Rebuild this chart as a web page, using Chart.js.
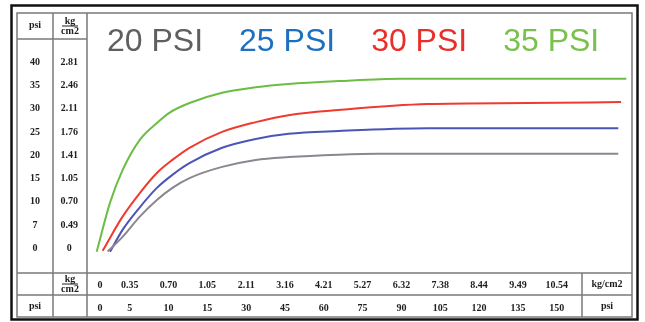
<!DOCTYPE html>
<html>
<head>
<meta charset="utf-8">
<script src="https://cdn.jsdelivr.net/npm/chart.js@4.4.0/dist/chart.umd.min.js"></script>
<style>
  html, body { margin: 0; padding: 0; background: #fff; }
  #wrap { width: 645px; height: 322px; }
</style>
</head>
<body>
<div id="wrap"><canvas id="grafico"></canvas></div>
<script>
// bottom table rows (x axis)
var kgX = ['0', '0.35', '0.70', '1.05', '2.11', '3.16', '4.21', '5.27', '6.32', '7.38', '8.44', '9.49', '10.54'];
var psiX = [0, 5, 10, 15, 30, 45, 60, 75, 90, 105, 120, 135, 150];
// left table columns (y axis)
var psiY = [0, 7, 10, 15, 20, 25, 30, 35, 40];
var kgY = ['0', '0.49', '0.70', '1.05', '1.41', '1.76', '2.11', '2.46', '2.81'];

var labels = ['20 PSI', '25 PSI', '30 PSI', '35 PSI'];
// curve points: [x in psi, y in psi]
var curva20 = [[1.3, -0.9], [3.8, 3.5], [6.3, 8.1], [8.5, 10.4], [10.5, 13.0], [12.7, 15.1], [20.7, 17.5], [33.7, 19.0], [46.4, 19.6], [65.6, 20.1], [80.9, 20.3], [173.8, 20.3]];
var curva25 = [[1.7, -1.0], [3.8, 5.6], [6.3, 9.3], [8.5, 13.0], [10.5, 15.8], [12.7, 18.3], [20.7, 21.6], [33.7, 23.5], [46.4, 24.6], [65.6, 25.2], [100.1, 25.8], [173.8, 25.8]];
var curva30 = [[0.45, -0.7], [3.8, 8.1], [6.3, 11.9], [8.5, 16.2], [10.5, 19.0], [12.7, 21.6], [20.7, 25.0], [33.7, 27.1], [46.4, 28.6], [65.6, 29.7], [100.1, 31.0], [138.5, 31.2], [174.9, 31.4]];
var curva35 = [[-0.55, -1.0], [1.7, 9.9], [3.8, 16.8], [6.3, 23.3], [8.5, 26.9], [10.1, 29.1], [12.7, 31.2], [20.7, 33.4], [33.7, 34.6], [46.4, 35.3], [65.6, 35.9], [89.8, 36.4], [176.9, 36.4]];

var corLinha = ['#8d8690', '#4a55b5', '#ee3b2e', '#6cbd45'];
var corLegenda = ['#5f5f5f', '#1d70c0', '#e8302a', '#79c04e'];

// the table columns are evenly spaced, except the first one which is narrower
var slotsX = psiX.map(function (v, i) { return i === 0 ? 0.233 : i; });
var rowsY = psiY.map(function (v, i) { return i; });

function interp(v, xs, ys) {
    var i = 0;
    while (i < xs.length - 2 && v > xs[i + 1]) i++;
    return ys[i] + (v - xs[i]) * (ys[i + 1] - ys[i]) / (xs[i + 1] - xs[i]);
}

function pontos(curva) {
    return curva.map(function (p) {
        return { x: interp(p[0], psiX, slotsX), y: interp(p[1], psiY, rowsY) };
    });
}

var fonteTabela = { family: 'Liberation Serif', size: 10, weight: 'bold' };
var corTexto = '#1e1e1e';

// no extra padding from the labels, the cells are fixed
function semPadding(s) {
    s.paddingTop = 0; s.paddingBottom = 0; s.paddingLeft = 0; s.paddingRight = 0;
}

function eixoX(nomes, peso, padding) {
    return {
        type: 'linear', position: 'bottom', weight: peso, bounds: 'data',
        min: -0.1, max: 13.94,
        afterBuildTicks: function (s) { s.ticks = slotsX.map(function (v) { return { value: v }; }); },
        afterFit: function (s) { s.height = 22; semPadding(s); },
        ticks: { autoSkip: false, maxRotation: 0, padding: padding, font: fonteTabela, color: corTexto,
                 callback: function (v, i) { return nomes[i]; } },
        grid: { display: false, drawTicks: false },
        border: { display: false }
    };
}

function eixoY(nomes, peso, largura, padding) {
    return {
        type: 'linear', position: 'left', weight: peso, bounds: 'data',
        min: -1.051, max: 10.102,
        afterBuildTicks: function (s) { s.ticks = rowsY.map(function (v) { return { value: v }; }); },
        afterFit: function (s) { s.width = largura; semPadding(s); },
        ticks: { autoSkip: false, crossAlign: 'center', padding: padding, font: fonteTabela, color: corTexto,
                 callback: function (v, i) { return nomes[i]; } },
        grid: { display: false, drawTicks: false },
        border: { display: false }
    };
}

function fracao(ctx, x, y) {
    ctx.fillText('kg', x, y - 5);
    ctx.fillText('cm2', x, y + 5);
    ctx.beginPath();
    ctx.moveTo(x - 8, y);
    ctx.lineTo(x + 8, y);
    ctx.lineWidth = 1;
    ctx.stroke();
}

var tabela = {
    id: 'tabela',
    beforeDraw: function (chart) {
        var ctx = chart.ctx;
        ctx.save();
        ctx.fillStyle = '#fff';
        ctx.fillRect(0, 0, chart.width, chart.height);
        ctx.restore();
    },
    afterDraw: function (chart) {
        var ctx = chart.ctx, ca = chart.chartArea;
        var sx = chart.scales.x, sx2 = chart.scales.x2, sy = chart.scales.y, sy2 = chart.scales.y2;
        var esq = sy2.left, dir = ca.right, topo = ca.top, base = sx2.bottom;
        var colUnid = dir - 50;
        var linhaCab = topo + 26;
        ctx.save();

        // outer frame
        ctx.strokeStyle = '#111';
        ctx.lineWidth = 2.5;
        ctx.strokeRect(esq - 5.5, topo - 7.5, dir - esq + 11, base - topo + 10);

        // table lines
        ctx.strokeStyle = '#7a7a7a';
        ctx.lineWidth = 1.5;
        ctx.strokeRect(esq, topo, dir - esq, base - topo);
        ctx.beginPath();
        ctx.moveTo(sy2.right, topo); ctx.lineTo(sy2.right, base);
        ctx.moveTo(sy.right, topo); ctx.lineTo(sy.right, base);
        ctx.moveTo(esq, linhaCab); ctx.lineTo(sy.right, linhaCab);
        ctx.moveTo(esq, sx.top); ctx.lineTo(dir, sx.top);
        ctx.moveTo(esq, sx2.top); ctx.lineTo(dir, sx2.top);
        ctx.moveTo(colUnid, sx.top); ctx.lineTo(colUnid, base);
        ctx.stroke();

        // header and unit cells
        ctx.fillStyle = corTexto;
        ctx.strokeStyle = corTexto;
        ctx.font = 'bold 10px "Liberation Serif"';
        ctx.textAlign = 'center';
        ctx.textBaseline = 'middle';
        var cPsi = (sy2.left + sy2.right) / 2, cKg = (sy.left + sy.right) / 2;
        var rKg = (sx.top + sx.bottom) / 2, rPsi = (sx2.top + sx2.bottom) / 2;
        ctx.fillText('psi', cPsi, topo + 12);
        fracao(ctx, cKg, topo + 13);
        fracao(ctx, cKg, rKg);
        ctx.fillText('psi', cPsi, rPsi);
        ctx.fillText('kg/cm2', (colUnid + dir) / 2, rKg);
        ctx.fillText('psi', (colUnid + dir) / 2, rPsi);

        // legend
        ctx.font = '32px "Liberation Sans"';
        ctx.textAlign = 'left';
        ctx.textBaseline = 'alphabetic';
        var lx = 107;
        chart.data.datasets.forEach(function (ds, i) {
            ctx.fillStyle = corLegenda[i];
            ctx.fillText(ds.label, lx, 51);
            lx += ctx.measureText(ds.label).width + 36;
        });
        ctx.restore();
    }
};

var curvas = [curva20, curva25, curva30, curva35];
var ctx = document.getElementById('grafico').getContext('2d');
var grafico = new Chart(ctx, {
    type: 'line',
    data: {
        datasets: curvas.map(function (c, i) {
            return {
                label: labels[i],
                data: pontos(c),
                borderColor: corLinha[i],
                borderWidth: 2,
                pointRadius: 0,
                fill: false,
                cubicInterpolationMode: 'monotone'
            };
        })
    },
    options: {
        responsive: true,
        maintainAspectRatio: false,
        animation: false,
        layout: { padding: { left: 17, top: 13, right: 13, bottom: 5 } },
        plugins: { legend: { display: false }, tooltip: { enabled: false } },
        scales: {
            x: eixoX(kgX, 1, 6),
            x2: eixoX(psiX, 2, 7),
            y: eixoY(kgY, 1, 34, 9),
            y2: eixoY(psiY, 2, 36, 13)
        }
    },
    plugins: [tabela]
});
</script>
</body>
</html>
